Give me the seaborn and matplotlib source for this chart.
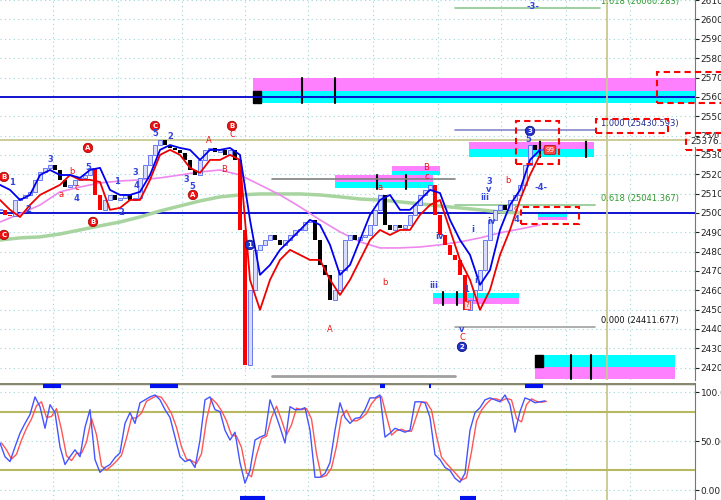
import numpy as np
import pandas as pd
import matplotlib
matplotlib.use("Agg")
import matplotlib.pyplot as plt
from matplotlib.patches import Rectangle
import seaborn as sns

# closing prices, one bar every step (index 0..109)
closes = [25016, 24990, 24984, 25067, 25078, 25093, 25109, 25171, 25212, 25233,
          25248, 25222, 25171, 25134, 25145, 25171, 25181, 25196, 25233, 25093,
          25016, 25067, 25093, 25067, 25078, 25093, 25067, 25078, 25181, 25248,
          25300, 25351, 25377, 25351, 25336, 25326, 25310, 25274, 25222, 25196,
          25274, 25326, 25336, 25315, 25326, 25300, 25326, 25274, 24912, 24214,
          24602, 24809, 24835, 24860, 24886, 24860, 24835, 24860, 24886, 24912,
          24912, 24953, 24964, 24860, 24731, 24680, 24550, 24602, 24705, 24860,
          24886, 24860, 24876, 24886, 24938, 25016, 25093, 24938, 24912, 24938,
          24922, 24938, 24990, 25041, 25093, 25119, 25145, 24990, 24886, 24835,
          24783, 24757, 24680, 24499, 24550, 24602, 24705, 24860, 24964, 25016,
          25041, 25016, 25067, 25093, 25145, 25248, 25351, 25326, 25326, 25336]

# upper (blue) and lower (red) bands, every 2 bars
band_upper = [25145, 25119, 25067, 25093, 25196, 25222, 25196, 25196, 25181, 25222,
              25233, 25119, 25093, 25093, 25109, 25196, 25326, 25351, 25336, 25326,
              25274, 25326, 25326, 25336, 25300, 24964, 24680, 24731, 24809, 24860,
              24912, 24964, 24938, 24835, 24680, 24731, 24860, 24990, 25067, 25093,
              25016, 25016, 25067, 25119, 25103, 24964, 24860, 24783, 24628, 24705,
              24912, 25041, 25119, 25274, 25326]
band_lower = [25067, 25016, 24979, 25041, 25093, 25119, 25145, 25196, 25171, 25171,
              25160, 25016, 25026, 25067, 25067, 25171, 25300, 25326, 25300, 25233,
              25207, 25274, 25274, 25300, 25274, 24654, 24499, 24654, 24757, 24809,
              24783, 24757, 24757, 24654, 24576, 24654, 24757, 24860, 24912, 24886,
              24912, 24912, 24990, 25041, 25067, 24912, 24757, 24654, 24499, 24602,
              24783, 24912, 25067, 25196, 25300]

# moving averages, every 4 bars
ma_pink = [24953, 24995, 25041, 25109, 25134, 25155, 25165, 25171, 25181, 25196,
           25212, 25222, 25196, 25145, 25093, 25031, 24964, 24902, 24850, 24819,
           24819, 24824, 24835, 24850, 24871, 24897, 24917, 24938]
ma_green = [24860, 24871, 24876, 24891, 24912, 24933, 24953, 24979, 25010, 25036,
            25062, 25083, 25093, 25098, 25098, 25098, 25093, 25083, 25072, 25067,
            25057, 25047, 25036, 25026, 25016, 25005, 25000]

# stochastic %K, one value per bar
stoch_k = [48, 34, 29, 44, 58, 68, 77, 95, 85, 63, 87, 79, 44, 26, 34, 41, 34, 64, 82, 31,
           18, 23, 26, 33, 38, 68, 79, 68, 89, 92, 95, 97, 92, 82, 74, 54, 34, 29, 31, 23,
           51, 92, 95, 82, 80, 61, 51, 59, 28, 7, 20, 51, 54, 56, 92, 79, 64, 48, 85, 82,
           82, 84, 61, 13, 13, 17, 28, 61, 89, 74, 68, 73, 74, 82, 94, 94, 97, 54, 58, 63,
           61, 59, 61, 90, 90, 89, 74, 36, 31, 23, 20, 12, 8, 17, 61, 79, 84, 92, 94, 92,
           90, 97, 87, 59, 80, 94, 92, 89, 90, 91]

fib_levels = [1.618, 1.000, 0.618, 0.000]
fib_prices = [26060.283, 25430.593, 25041.367, 24411.677]
fib_colors = ['#2e9a2e', '#1c2a8c', '#2e9a2e', '#111111']
cursor_price = 25376.5

YTOP, YBOT = 26100.8, 24136.2


def px(xp, yp):
    # screen pixel -> data coords of the price panel
    return xp / 5.0, 25000 + (213 - yp) * 5.168


sns.set_style("white")
plt.rcParams['font.family'] = ['DejaVu Sans']

fig = plt.figure(figsize=(7.21, 5.0), dpi=100)
ax = fig.add_axes([0, 120 / 500, 695 / 721, 380 / 500])
ax2 = fig.add_axes([0, 0, 695 / 721, 117 / 500])

grid_x = [10.6, 23.6, 36.4, 49, 61.6, 74.6, 87.6, 100.2, 113.2, 126]
for a in (ax, ax2):
    a.set_xlim(0, 139)
    a.set_xticks(grid_x)
    a.tick_params(axis='x', length=0, labelbottom=False)
    a.grid(True, color='#9fd6d6', linestyle=(0, (1, 3)), linewidth=0.8)
    a.yaxis.tick_right()
    a.tick_params(axis='y', direction='out', length=3, labelsize=6.5,
                  pad=1, colors='#222222')
    for s in ['left', 'top', 'bottom']:
        a.spines[s].set_visible(False)
    a.spines['right'].set_color('#777777')

ax.set_ylim(YBOT, YTOP)
ax.set_yticks(np.arange(24200, 26101, 100))
ax.set_yticklabels([f"{v:.1f}" for v in np.arange(24200, 26101, 100)])

# ---- boxes (magenta / cyan zones)
MAG, CYA = '#ff80ff', '#00ffff'


def zone(x0, x1, ylo, ymid, yhi, top=MAG, bottom=CYA):
    ax.add_patch(Rectangle((x0, ymid), x1 - x0, yhi - ymid, color=top, lw=0, zorder=1))
    ax.add_patch(Rectangle((x0, ylo), x1 - x0, ymid - ylo, color=bottom, lw=0, zorder=1))


zone(253 / 5, 139, 25568, 25630, 25698)
ax.add_patch(Rectangle((253 / 5, 25568), 1.5, 62, color='black', zorder=2))
zone(335 / 5, 433 / 5, 25129, 25160, 25196)
zone(392 / 5, 440 / 5, 25196, 25217, 25243)
zone(433 / 5, 519 / 5, 24530, 24561, 24587, top=CYA, bottom=MAG)
zone(469 / 5, 594 / 5, 25289, 25331, 25367)
zone(538 / 5, 567 / 5, 24964, 24979, 24995, top=CYA, bottom=MAG)
zone(535 / 5, 675 / 5, 24142, 24204, 24266, top=CYA, bottom=MAG)
ax.add_patch(Rectangle((535 / 5, 24204), 1.6, 62, color='black', zorder=2))
ticks = [(302, 25568, 25698), (335, 25568, 25698), (377, 25125, 25196),
         (406, 25125, 25196), (443, 24525, 24592), (457, 24525, 24592),
         (540, 25289, 25377), (586, 25289, 25377), (571, 24142, 24266),
         (591, 24142, 24266)]
for xp, y0, y1 in ticks:
    ax.plot([xp / 5, xp / 5], [y0, y1], color='black', lw=1.5, zorder=2)

# ---- horizontal reference lines
ax.axhline(25000, color='#0000cc', lw=1.3, zorder=2)
ax.axhline(25599, color='#0000cc', lw=1.3, zorder=2)
ax.axhline(cursor_price, color='#c8c890', lw=1.3, zorder=2)
ax.axvline(607 / 5, color='#c8c890', lw=1.3, zorder=2)
ax2.axvline(607 / 5, color='#c8c890', lw=1.3, zorder=2)
ax.plot([272 / 5, 455 / 5], [25176, 25176], color='#808080', lw=1.2, zorder=2)
ax.plot([272 / 5, 455 / 5], [24155, 24155], color='#a0a0a0', lw=2, zorder=2)

for lvl, pr, col in zip(fib_levels, fib_prices, fib_colors):
    xend = 600 / 5 if lvl == 1.618 else 595 / 5
    lc = '#8888cc' if lvl == 1.0 else ('#a0a0a0' if lvl == 0 else '#8ec88e')
    ax.plot([455 / 5, xend], [pr, pr], color=lc, lw=1.2, zorder=2)
    ax.text(601 / 5, pr + 8, f"{lvl:.3f} ({pr:.3f})", color=col, fontsize=6,
            va='bottom', ha='left', zorder=5)

# ---- moving averages and bands
xb = np.arange(len(closes))
sns.lineplot(x=np.arange(len(ma_green)) * 4, y=ma_green, ax=ax, color='#a8d4a0',
             lw=2.5, zorder=3)
sns.lineplot(x=np.arange(len(ma_pink)) * 4, y=ma_pink, ax=ax, color='#ee88ee',
             lw=1.2, zorder=3)

# ---- candles
opens = [closes[0]] + closes[:-1]
red_bars = set(range(0, 3)) | set(range(19, 21)) | set(range(48, 51)) | set(range(87, 95))
for i, (o, c) in enumerate(zip(opens, closes)):
    h = c - o if abs(c - o) > 3 else 4
    if c >= o:
        ax.bar(i, h, bottom=o, width=0.75, facecolor='#d8ddff', edgecolor='#5566ee',
               lw=0.6, zorder=4)
    else:
        col = 'red' if i in red_bars else 'black'
        ax.bar(i, h, bottom=o, width=0.75, color=col, lw=0, zorder=4)

sns.lineplot(x=np.arange(len(band_lower)) * 2, y=band_lower, ax=ax, color='#ee0000',
             lw=1.3, zorder=5)
sns.lineplot(x=np.arange(len(band_upper)) * 2, y=band_upper, ax=ax, color='#0000ee',
             lw=1.3, zorder=5)

# ---- dashed red boxes
for (x0, y0, x1, y1) in [(516, 121, 559, 164), (521, 207, 579, 224),
                         (596, 119, 668, 133), (657, 72, 730, 103),
                         (686, 133, 730, 150)]:
    a0, b0 = px(x0, y1)
    a1, b1 = px(x1, y0)
    ax.add_patch(Rectangle((a0, b0), a1 - a0, b1 - b0, fill=False, ec='red',
                           lw=1.5, ls=(0, (3, 2)), zorder=6, clip_on=False))
ax.text(138.0, cursor_price - 8, f"{cursor_price:.1f}", fontsize=6.5, va='center',
        ha='left', color='#222222', zorder=7, clip_on=False,
        bbox=dict(fc='white', ec='none', pad=0.3))

# ---- wave labels
red_circ = [("C", 155, 126), ("A", 88, 148), ("B", 93, 222), ("A", 193, 195),
            ("B", 232, 126), ("B", 4, 177), ("C", 4, 235)]
blue_circ = [("1", 250, 245), ("2", 462, 347), ("3", 530, 131)]
for t, xp, yp in red_circ:
    ax.text(*px(xp, yp), t, color='white', fontsize=5, ha='center', va='center',
            weight='bold', zorder=7,
            bbox=dict(boxstyle='circle,pad=0.25', fc='#ee1111', ec='#990000', lw=0.5))
for t, xp, yp in blue_circ:
    ax.text(*px(xp, yp), t, color='white', fontsize=5, ha='center', va='center',
            weight='bold', zorder=7,
            bbox=dict(boxstyle='circle,pad=0.25', fc='#2233cc', ec='#000066', lw=0.5))

blue_txt = [("1", 12, 183), ("2", 28, 210), ("3", 50, 160), ("4", 77, 199),
            ("5", 88, 168), ("1", 117, 182), ("2", 121, 213), ("3", 135, 173),
            ("4", 137, 186), ("5", 155, 134), ("2", 170, 137), ("3", 186, 180),
            ("5", 192, 187), ("iii", 434, 286), ("iv", 440, 237), ("i", 473, 230),
            ("ii", 477, 281), ("iii", 485, 198), ("3", 489, 182), ("v", 489, 190),
            ("iv", 492, 222), ("1", 466, 290), ("v", 462, 330), ("5", 528, 140),
            ("-4-", 541, 188), ("4", 516, 220), ("-3-", 533, 6)]
red_txt = [("a", 61, 195), ("b", 72, 172), ("c", 77, 188), ("A", 209, 141),
           ("B", 224, 170), ("C", 232, 135), ("A", 330, 330), ("b", 385, 283),
           ("a", 380, 188), ("B", 426, 168), ("c", 427, 177), ("b", 508, 181),
           ("c", 516, 209), ("C", 462, 338)]
for t, xp, yp in blue_txt:
    ax.text(*px(xp, yp), t, color='#3344dd', fontsize=6, ha='center', va='center',
            weight='bold', zorder=7)
for t, xp, yp in red_txt:
    ax.text(*px(xp, yp), t, color='#ee1111', fontsize=6, ha='center', va='center',
            zorder=7)
ax.text(*px(550, 150), "99", color='white', fontsize=5, ha='center', va='center',
        zorder=7, bbox=dict(boxstyle='round,pad=0.2', fc='#ff4444', ec='#aa0000', lw=0.5))
ax.text(*px(467, 305), "?", color='#ee1111', fontsize=5, ha='center', va='center',
        zorder=7, bbox=dict(boxstyle='square,pad=0.1', fc='#ffdddd', ec='#ee1111', lw=0.5))

# ---- stochastic panel
ax2.set_ylim(-10.2, 109.2)
ax2.set_yticks([0, 50, 100])
ax2.set_yticklabels(["0.00", "50.00", "100.00"])
stoch_d = pd.Series(stoch_k).rolling(2, min_periods=1).mean()
sns.lineplot(x=xb + 0.3, y=stoch_d, ax=ax2, color='#ff5555', lw=1.0, zorder=3)
sns.lineplot(x=xb, y=stoch_k, ax=ax2, color='#4455ff', lw=1.0, zorder=4)
ax2.axhline(80, color='#b8b860', lw=1.5, zorder=2)
ax2.axhline(20, color='#b8b860', lw=1.5, zorder=2)
ax2.axhline(109, color='#888870', lw=2.5, zorder=2)
for x0, x1 in [(43, 61), (150, 178), (380, 385), (429, 431), (525, 543)]:
    ax2.plot([x0 / 5, x1 / 5], [106.5, 106.5], color='#0011ee', lw=3, zorder=5,
             solid_capstyle='butt')
for x0, x1 in [(240, 265), (460, 476)]:
    ax2.plot([x0 / 5, x1 / 5], [-8.5, -8.5], color='#0011ee', lw=3, zorder=5,
             solid_capstyle='butt')

fig.savefig("out.png", dpi=100)
